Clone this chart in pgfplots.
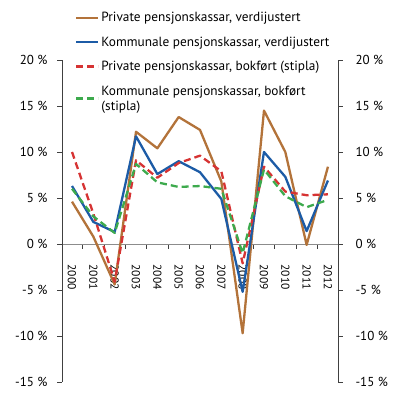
\documentclass[border=0pt]{standalone}
\usepackage{pgfplots}
\pgfplotsset{compat=1.18}
\usepackage{fontspec}
\setmainfont{PT Sans}
\definecolor{cbrown}{HTML}{B3733A}
\definecolor{cblue}{HTML}{1C5BA6}
\definecolor{cred}{HTML}{D63333}
\definecolor{cgreen}{HTML}{3DAA4D}
\pgfplotstableread{
year brown blue red green
2000 4.6 6.3 10.0 6.0
2001 0.8 2.4 3.3 3.0
2002 -4.4 1.3 -4.1 1.2
2003 12.2 11.7 9.1 8.7
2004 10.4 7.6 7.2 6.7
2005 13.8 9.0 8.8 6.2
2006 12.4 7.8 9.6 6.3
2007 6.8 4.9 7.9 6.0
2008 -9.7 -5.2 -2.1 -1.0
2009 14.5 10.0 8.4 8.1
2010 10.0 7.3 5.7 5.2
2011 -0.1 1.4 5.3 4.0
2012 8.4 6.9 5.4 4.8
}\data
\begin{document}
\begin{tikzpicture}
\pgfplotsset{every axis/.append style={
  width=276pt, height=322pt, scale only axis,
  xmin=1999.53, xmax=2012.47, ymin=-15, ymax=20,
  ytick={-15,-10,...,20},
  yticklabels={-15 \%,-10 \%,-5 \%,0 \%,5 \%,10 \%,15 \%,20 \%},
  tick align=outside,
  major tick length=5pt,
  y axis line style={draw=black!75, line width=0.8pt},
  ytick style={draw=black!75, line width=0.8pt},
}}
\begin{axis}[
  axis y line*=left, axis x line*=middle,
  yticklabel style={font=\fontsize{13}{15}\selectfont, xshift=-6pt},
  x axis line style={draw=black!45, line width=0.8pt, -},
  xtick={2000,...,2012},
  xticklabels={2000,2001,2002,2003,2004,2005,2006,2007,2008,2009,2010,2011,2012},
  major x tick style={draw=none},
  minor xtick={2000.5,2001.5,...,2011.5},
  minor tick length=5pt,
  minor x tick style={draw=black!75, line width=0.8pt},
  xticklabel shift=12pt,
  xticklabel style={rotate=-90, anchor=west, font=\fontsize{11.5}{13}\selectfont},
  legend style={at={(axis description cs:0.047,1.155)}, anchor=north west,
    draw=none, fill=none, inner sep=0pt, row sep=9.5pt,
    font=\fontsize{13.3}{15}\selectfont, cells={align=left}},
  legend cell align=left,
  legend image code/.code={\draw[#1] (0pt,0pt) -- (22pt,0pt);},
  every axis plot/.append style={line width=2.3pt, line join=round},
]
\addplot[cbrown, mark=none] table[x=year, y=brown] {\data};
\addlegendentry{Private pensjonskassar, verdijustert}
\addplot[cblue, mark=none] table[x=year, y=blue] {\data};
\addlegendentry{Kommunale pensjonskassar, verdijustert}
\addplot[cred, mark=none, dash pattern=on 7pt off 4pt] table[x=year, y=red] {\data};
\addlegendentry{Private pensjonskassar, bokført (stipla)}
\addplot[cgreen, mark=none, dash pattern=on 7pt off 4pt] table[x=year, y=green] {\data};
\addlegendentry{Kommunale pensjonskassar, bokført\\(stipla)}
\coordinate (sw) at (rel axis cs:0,0);
\end{axis}
\begin{axis}[axis y line*=right, axis x line=none,
  yticklabel style={font=\fontsize{13}{15}\selectfont, xshift=9pt}]
\addplot[draw=none] coordinates {(2000,0)};
\end{axis}
\pgfresetboundingbox
\path[use as bounding box] ([xshift=-62pt,yshift=-13pt]sw) rectangle ++(400pt,395pt);
\end{tikzpicture}
\end{document}
